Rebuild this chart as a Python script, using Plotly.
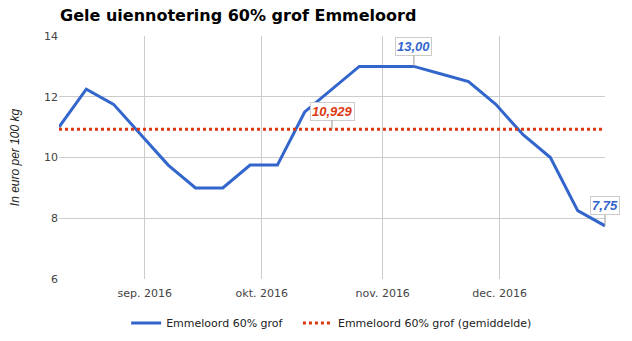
import plotly.graph_objects as go

dates = ["2016-08-10", "2016-08-17", "2016-08-24", "2016-08-31", "2016-09-07",
         "2016-09-14", "2016-09-21", "2016-09-28", "2016-10-05", "2016-10-12",
         "2016-10-19", "2016-10-26", "2016-11-02", "2016-11-09", "2016-11-16",
         "2016-11-23", "2016-11-30", "2016-12-07", "2016-12-14", "2016-12-21",
         "2016-12-28"]
prices = [11.0, 12.25, 11.75, 10.75, 9.75, 9.0, 9.0, 9.75, 9.75, 11.5,
          12.25, 13.0, 13.0, 13.0, 12.75, 12.5, 11.75, 10.75, 10.0, 8.25, 7.75]
mean_price = round(sum(prices) / len(prices), 3)
mean_series = [mean_price] * len(dates)

tick_vals = ["2016-09-01", "2016-10-01", "2016-11-01", "2016-12-01"]
tick_text = ["sep. 2016", "okt. 2016", "nov. 2016", "dec. 2016"]
y_ticks = [6, 8, 10, 12, 14]

BLUE = "#3366cc"
RED = "#dc3912"
PAD = "\u00a0" * 3

fig = go.Figure()
fig.add_trace(go.Scatter(x=dates, y=prices, mode="lines", name="Emmeloord 60% grof" + PAD,
                         line=dict(color=BLUE, width=3)))
fig.add_trace(go.Scatter(x=dates, y=mean_series, mode="lines",
                         name="Emmeloord 60% grof (gemiddelde)",
                         line=dict(color=RED, width=3, dash="dot")))

def label(x, y, text, color, ay):
    fig.add_annotation(x=x, y=y, text="<b><i>%s</i></b>" % text, showarrow=True,
                       arrowhead=0, arrowwidth=1, arrowcolor="#999999", ax=0, ay=ay,
                       font=dict(family="Liberation Sans, Arial", size=13, color=color),
                       bgcolor="white", bordercolor="#cccccc", borderwidth=1, borderpad=1,
                       standoff=0)

label(dates[13], prices[13], "13,00", BLUE, -20)
label("2016-10-19", mean_price, "10,929", RED, -18)
label(dates[-1], prices[-1], "7,75", BLUE, -20)

fig.update_layout(
    width=632, height=341,
    margin=dict(l=59, r=27, t=36, b=62, autoexpand=False),
    paper_bgcolor="white", plot_bgcolor="white",
    title=dict(text="<b>Gele uiennotering 60% grof Emmeloord</b>", x=0.095, xanchor="left",
               y=0.955, yanchor="middle",
               font=dict(family="DejaVu Sans", size=16, color="black")),
    font=dict(family="DejaVu Sans", size=11, color="#444444"),
    xaxis=dict(range=["2016-08-10", "2016-12-28"], tickvals=tick_vals, ticktext=tick_text,
               showgrid=True, gridcolor="#cccccc", gridwidth=1, zeroline=False,
               showline=False, ticks="", ticklabelstandoff=6,
               tickfont=dict(size=11, color="#444444")),
    yaxis=dict(range=[6, 14], tickvals=y_ticks, showgrid=True, gridcolor="#cccccc",
               zeroline=False, showline=False, ticks="", ticklen=0,
               title=dict(text="<i>In euro per 100 kg</i>", standoff=21,
                          font=dict(family="Liberation Sans, Arial", size=12, color="#222222")),
               tickfont=dict(size=11, color="#444444")),
    showlegend=True,
    legend=dict(orientation="h", x=0.123, xanchor="left", y=0.053, yanchor="middle",
                yref="container",
                font=dict(size=11, color="#222222"), itemwidth=30),
)

fig.write_html("out.html")
